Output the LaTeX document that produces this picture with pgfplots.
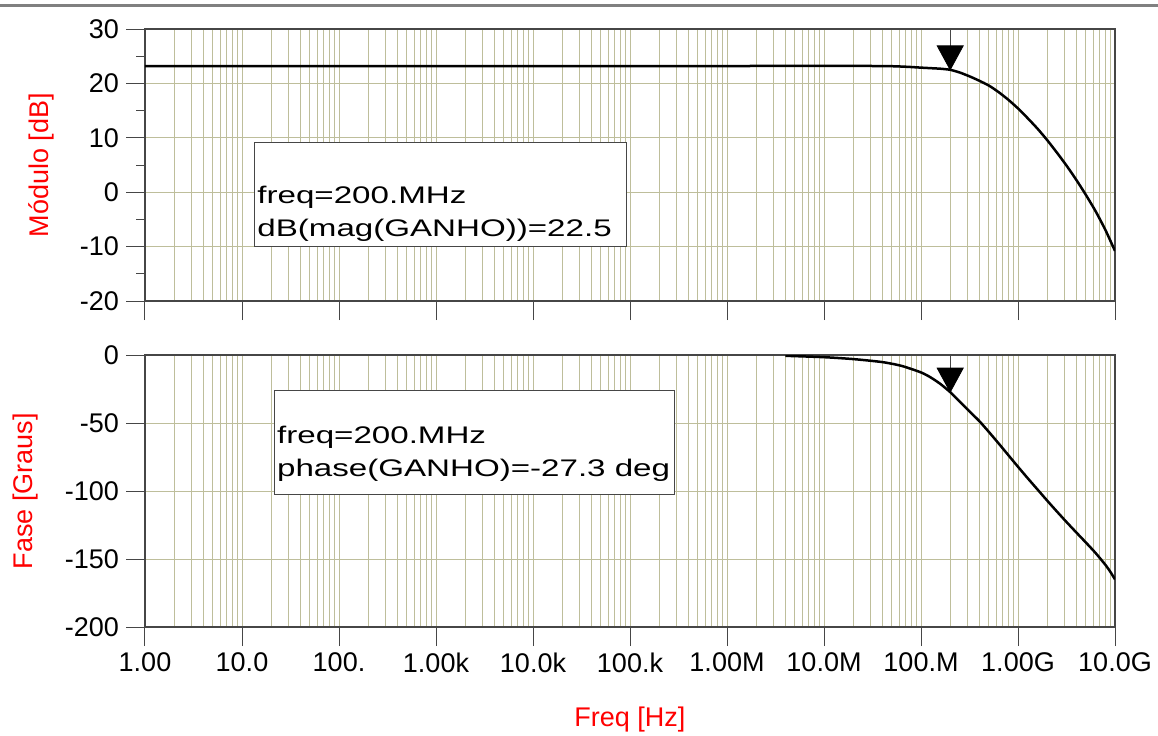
\documentclass[border=0pt]{standalone}
\usepackage{fontspec}
\setmainfont{Liberation Sans}
\usepackage{graphicx}
\usepackage{pgfplots}
\pgfplotsset{compat=1.18}

\definecolor{gridc}{RGB}{190,190,155}
\definecolor{framec}{RGB}{70,70,70}
\definecolor{sepc}{RGB}{128,128,128}

% marker: downward triangle with its tip on the data point
\pgfdeclareplotmark{dtri}{%
  \pgfpathmoveto{\pgfpointorigin}%
  \pgfpathlineto{\pgfpoint{-6.5pt}{12pt}}%
  \pgfpathlineto{\pgfpoint{6.5pt}{12pt}}%
  \pgfpathclose
  \pgfusepathqfillstroke}

\pgfplotstableread{
f        db
1        23.2
1e6      23.2
3.162e7  23.2
6.310e7  23.1
1e8      22.9
1.259e8  22.8
1.585e8  22.7
2e8      22.5
2.512e8  22.0
3.162e8  21.3
3.981e8  20.5
5.012e8  19.6
6.310e8  18.4
7.943e8  17.0
1e9      15.4
1.259e9  13.6
1.585e9  11.7
1.995e9  9.6
2.512e9  7.3
3.162e9  4.9
3.981e9  2.3
5.012e9  -0.5
6.310e9  -3.5
7.943e9  -6.9
1e10     -10.8
}\magtable

\pgfplotstableread{
f        ph
4e6      -0.6
1e7      -1.6
2e7      -3.0
3.981e7  -5.2
6.310e7  -8.0
1e8      -12.8
1.259e8  -16.5
1.585e8  -21.3
2e8      -27.3
2.512e8  -34.3
3.162e8  -41.5
3.981e8  -48.5
5.012e8  -56.6
6.310e8  -65.0
7.943e8  -73.6
1e9      -82.2
1.259e9  -90.6
1.585e9  -98.8
1.995e9  -107.0
2.512e9  -115.0
3.162e9  -122.8
3.981e9  -130.4
5.012e9  -137.9
6.310e9  -145.6
7.943e9  -154.2
8.913e9  -159.2
1e10     -165.0
}\phtable

\pgfplotsset{
  bode/.style={
    scale only axis, width=485pt, height=136pt,
    xmin=1, xmax=1e10,
    xtick={1,10,100,1e3,1e4,1e5,1e6,1e7,1e8,1e9,1e10},
    minor xtick={2,3,4,5,6,7,8,9,
      20,30,40,50,60,70,80,90,
      200,300,400,500,600,700,800,900,
      2e3,3e3,4e3,5e3,6e3,7e3,8e3,9e3,
      2e4,3e4,4e4,5e4,6e4,7e4,8e4,9e4,
      2e5,3e5,4e5,5e5,6e5,7e5,8e5,9e5,
      2e6,3e6,4e6,5e6,6e6,7e6,8e6,9e6,
      2e7,3e7,4e7,5e7,6e7,7e7,8e7,9e7,
      2e8,3e8,4e8,5e8,6e8,7e8,8e8,9e8,
      2e9,3e9,4e9,5e9,6e9,7e9,8e9,9e9},
    xmajorgrids, xminorgrids, ymajorgrids,
    major grid style={gridc, line width=0.5pt},
    minor grid style={gridc, line width=0.5pt},
    axis line style={framec, line width=0.6pt},
    tick align=outside, xtick pos=bottom, ytick pos=left,
    major tick length=9.5pt, minor tick length=4.5pt,
    tick style={framec, line width=0.5pt},
    minor x tick style={draw=none},
    tick label style={font=\fontsize{13.5}{16}\selectfont},
    label style={font=\fontsize{13.5}{16}\selectfont, text=red},
  }
}

\begin{document}
\begin{tikzpicture}
\useasboundingbox (-72.5pt,-54pt) rectangle (506.5pt,313.5pt);

% magnitude
\begin{semilogxaxis}[bode, at={(0pt,163pt)}, anchor=south west,
  ymin=-20, ymax=30, ytick={-20,-10,0,10,20,30},
  yticklabels={-20,-10,0,10,20,30},
  minor y tick num=1, xticklabels={},
  ylabel={Módulo [dB]},
  ylabel style={at={([xshift=-52pt]axis description cs:0,0.5)}, anchor=center}]
\addplot[black, line width=1.25pt, smooth, tension=0.4] table[x=f, y=db] {\magtable};
\addplot[framec, line width=0.5pt] coordinates {(2e8,22.5) (2e8,30)};
\addplot[only marks, mark=dtri, mark options={fill=black, draw=black}] coordinates {(2e8,22.5)};
\end{semilogxaxis}

% phase
\begin{semilogxaxis}[bode, at={(0pt,0pt)}, anchor=south west,
  ymin=-200, ymax=0, ytick={-200,-150,-100,-50,0},
  yticklabels={-200,-150,-100,-50,0},
  minor y tick num=0,
  xticklabels={1.00,10.0,100.,1.00k,10.0k,100.k,1.00M,10.0M,100.M,1.00G,10.0G},
  xlabel={Freq [Hz]},
  xlabel style={at={(axis description cs:0.5,0)}, anchor=base, yshift=-49.5pt},
  ylabel={Fase [Graus]},
  ylabel style={at={([xshift=-59.5pt]axis description cs:0,0.5)}, anchor=center}]
\addplot[black, line width=1.25pt, smooth, tension=0.4] table[x=f, y=ph] {\phtable};
\addplot[framec, line width=0.5pt] coordinates {(2e8,-27.3) (2e8,0)};
\addplot[only marks, mark=dtri, mark options={fill=black, draw=black}] coordinates {(2e8,-27.3)};
\end{semilogxaxis}

% marker readouts
\draw[framec, line width=0.5pt, fill=white] (55pt,190.15pt) rectangle (240.85pt,242.35pt);
\node[anchor=base west, inner sep=0pt, font=\fontsize{12}{14}\selectfont] at (56pt,211.85pt) {\scalebox{1.38}[1]{freq=200.MHz}};
\node[anchor=base west, inner sep=0pt, font=\fontsize{12}{14}\selectfont] at (56pt,195.5pt) {\scalebox{1.38}[1]{dB(mag(GANHO))=22.5}};

\draw[framec, line width=0.5pt, fill=white] (64.65pt,66.35pt) rectangle (264.65pt,118.5pt);
\node[anchor=base west, inner sep=0pt, font=\fontsize{12}{14}\selectfont] at (65.85pt,91.85pt) {\scalebox{1.38}[1]{freq=200.MHz}};
\node[anchor=base west, inner sep=0pt, font=\fontsize{12}{14}\selectfont] at (65.85pt,75.15pt) {\scalebox{1.38}[1]{phase(GANHO)=-27.3 deg}};

% separator line at the top
\draw[sepc, line width=1.3pt] (-72.5pt,310.6pt) -- (506.5pt,310.6pt);
\end{tikzpicture}
\end{document}
